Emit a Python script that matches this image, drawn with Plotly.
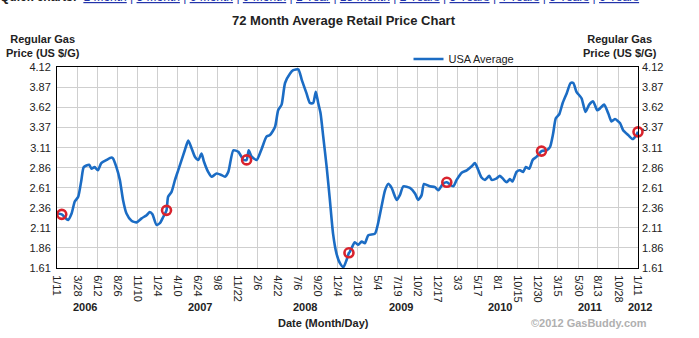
import plotly.graph_objects as go

# ---- data ----
dates = [
    "2006-01-11", "2006-01-29", "2006-02-16", "2006-02-22", "2006-03-07", "2006-03-19",
    "2006-04-01", "2006-04-13", "2006-04-22", "2006-05-12", "2006-05-21", "2006-06-02",
    "2006-06-14", "2006-06-27", "2006-07-17", "2006-08-04", "2006-08-10", "2006-08-23",
    "2006-09-05", "2006-09-17", "2006-09-30", "2006-10-19", "2006-11-07", "2006-11-26",
    "2006-12-15", "2006-12-27", "2007-01-06", "2007-01-21", "2007-02-03", "2007-02-16",
    "2007-02-28", "2007-03-06", "2007-03-19", "2007-04-01", "2007-04-13", "2007-04-26",
    "2007-05-08", "2007-05-21", "2007-06-03", "2007-06-15", "2007-06-28", "2007-07-10",
    "2007-07-19", "2007-08-04", "2007-08-17", "2007-09-05", "2007-09-24", "2007-10-06",
    "2007-10-19", "2007-11-07", "2007-11-26", "2007-12-15", "2007-12-27", "2008-01-04",
    "2008-01-15", "2008-02-03", "2008-02-22", "2008-03-11", "2008-03-24", "2008-04-12",
    "2008-04-24", "2008-05-07", "2008-05-20", "2008-06-08", "2008-06-20", "2008-07-09",
    "2008-07-22", "2008-08-09", "2008-08-22", "2008-09-03", "2008-09-13", "2008-09-22",
    "2008-10-01", "2008-10-11", "2008-10-24", "2008-11-05", "2008-11-17", "2008-11-30",
    "2008-12-13", "2008-12-26", "2009-01-07", "2009-01-16", "2009-01-19", "2009-02-07",
    "2009-02-20", "2009-03-05", "2009-03-17", "2009-03-30", "2009-04-24", "2009-05-06",
    "2009-05-19", "2009-06-01", "2009-06-13", "2009-06-26", "2009-07-15", "2009-07-27",
    "2009-08-09", "2009-09-03", "2009-09-22", "2009-10-04", "2009-10-17", "2009-10-26",
    "2009-11-17", "2009-12-06", "2009-12-19", "2010-01-05", "2010-01-20", "2010-02-13",
    "2010-02-26", "2010-03-17", "2010-04-05", "2010-04-24", "2010-05-06", "2010-05-19",
    "2010-05-31", "2010-06-13", "2010-06-29", "2010-07-08", "2010-07-27", "2010-08-08",
    "2010-08-21", "2010-09-03", "2010-09-15", "2010-09-25", "2010-10-10", "2010-10-23",
    "2010-11-04", "2010-11-14", "2010-11-27", "2010-12-10", "2010-12-25", "2011-01-12",
    "2011-01-31", "2011-02-13", "2011-02-25", "2011-03-07", "2011-03-20", "2011-04-02",
    "2011-04-17", "2011-05-02", "2011-05-12", "2011-05-24", "2011-06-12", "2011-06-27",
    "2011-07-11", "2011-07-26", "2011-08-10", "2011-08-20", "2011-09-05", "2011-09-21",
    "2011-10-03", "2011-10-16", "2011-11-04", "2011-11-16", "2011-12-05", "2011-12-22",
    "2012-01-03", "2012-01-11",
]
prices = [
    2.29, 2.28, 2.22, 2.21, 2.29, 2.44,
    2.50, 2.71, 2.87, 2.90, 2.85, 2.87,
    2.83, 2.92, 2.96, 2.99, 2.98, 2.87,
    2.71, 2.46, 2.29, 2.20, 2.18, 2.23,
    2.27, 2.31, 2.28, 2.15, 2.17, 2.25,
    2.33, 2.50, 2.56, 2.71, 2.83, 2.96,
    3.08, 3.20, 3.10, 3.00, 2.96, 3.04,
    2.94, 2.81, 2.75, 2.79, 2.77, 2.75,
    2.81, 3.08, 3.06, 2.96, 2.96, 3.08,
    3.00, 2.96, 3.10, 3.25, 3.27, 3.37,
    3.58, 3.65, 3.92, 4.04, 4.08, 4.09,
    3.96, 3.79, 3.67, 3.67, 3.81, 3.67,
    3.54, 3.25, 2.87, 2.46, 2.04, 1.79,
    1.67, 1.62, 1.71, 1.80, 1.81, 1.93,
    1.90, 1.94, 1.92, 2.02, 2.04, 2.17,
    2.38, 2.58, 2.66, 2.61, 2.46, 2.52,
    2.63, 2.61, 2.54, 2.46, 2.52, 2.66,
    2.63, 2.62, 2.58, 2.66, 2.68, 2.63,
    2.71, 2.80, 2.83, 2.88, 2.92, 2.83,
    2.74, 2.71, 2.76, 2.71, 2.73, 2.76,
    2.72, 2.68, 2.72, 2.69, 2.81, 2.83,
    2.81, 2.87, 2.85, 2.96, 3.00, 3.07,
    3.08, 3.12, 3.29, 3.48, 3.53, 3.67,
    3.79, 3.92, 3.92, 3.81, 3.73, 3.56,
    3.65, 3.69, 3.58, 3.60, 3.65, 3.54,
    3.44, 3.47, 3.42, 3.33, 3.27, 3.22,
    3.26, 3.31,
]

marker_dates = ["2006-01-29", "2007-02-28", "2007-12-27", "2009-01-16",
                "2010-01-20", "2011-01-12", "2012-01-11"]
marker_prices = [2.28, 2.33, 2.96, 1.80, 2.68, 3.07, 3.31]

tick_dates = [
    "2006-01-11", "2006-03-28", "2006-06-12", "2006-08-26", "2006-11-10",
    "2007-01-24", "2007-04-10", "2007-06-24", "2007-09-08", "2007-11-22",
    "2008-02-06", "2008-04-22", "2008-07-06", "2008-09-20", "2008-12-04",
    "2009-02-18", "2009-05-04", "2009-07-19", "2009-10-02", "2009-12-17",
    "2010-03-03", "2010-05-17", "2010-08-01", "2010-10-15", "2010-12-30",
    "2011-03-15", "2011-05-30", "2011-08-13", "2011-10-28", "2012-01-11",
]
tick_labels = [
    "1/11", "3/28", "6/12", "8/26", "11/10", "1/24", "4/10", "6/24", "9/8", "11/22",
    "2/6", "4/22", "7/6", "9/20", "12/4", "2/18", "5/4", "7/19", "10/2", "12/17",
    "3/3", "5/17", "8/1", "10/15", "12/30", "3/15", "5/30", "8/13", "10/28", "1/11",
]
y_ticks = [1.61, 1.86, 2.11, 2.36, 2.61, 2.86, 3.11, 3.37, 3.62, 3.87, 4.12]
y_tick_labels = ["1.61", "1.86", "2.11", "2.36", "2.61", "2.86", "3.11", "3.37", "3.62", "3.87", "4.12"]

years = ["2006", "2007", "2008", "2009", "2010", "2011", "2012"]
quick_links = ["1 Month", "3 Month", "6 Month", "9 Month", "1 Year", "18 Month",
               "2 Years", "3 Years", "4 Years", "5 Years", "6 Years"]

FONT = "Liberation Sans, Arial, sans-serif"
LINE_BLUE = "#1b6cc4"
RED = "#d9232d"

# plot-area geometry in pixels (layout only)
PL, PR, PT, PB = 57, 638, 67, 268
PW, PH = PR - PL, PB - PT


def px(x):
    return (x - PL) / PW


def py(y):
    return (PB - y) / PH


year_label_px = [85, 200, 305, 401, 500, 590, 640]

fig = go.Figure()
fig.add_trace(go.Scatter(
    x=dates, y=prices, mode="lines", name="USA Average",
    line=dict(color=LINE_BLUE, width=2.6, shape="spline", smoothing=0.6),
))
fig.add_trace(go.Scatter(
    x=marker_dates, y=marker_prices, mode="markers", showlegend=False,
    marker=dict(symbol="circle-open", size=9, color=RED, line=dict(color=RED, width=2.6)),
    cliponaxis=False, yaxis="y2",
))

axis_font = dict(family=FONT, size=11, color="#222")

fig.update_layout(
    width=699, height=338,
    margin=dict(l=PL, r=699 - PR, t=PT, b=338 - PB),
    paper_bgcolor="white", plot_bgcolor="white",
    font=dict(family=FONT, size=11, color="#222"),
    showlegend=True,
    legend=dict(x=0.605, y=1.04, xanchor="left", yanchor="middle",
                bgcolor="rgba(0,0,0,0)", font=dict(family=FONT, size=11, color="#222"),
                itemwidth=30),
    xaxis=dict(
        type="date", range=["2006-01-11", "2012-01-11"],
        tickmode="array", tickvals=tick_dates, ticktext=tick_labels,
        tickangle=90, tickfont=axis_font, ticks="", ticklabelstandoff=4,
        showgrid=True, gridcolor="#cfcfcf", gridwidth=1,
        showline=True, linecolor="black", linewidth=1, mirror=True,
        zeroline=False,
    ),
    yaxis=dict(
        range=[1.61, 4.12], tickmode="array", tickvals=y_ticks, ticktext=y_tick_labels,
        tickfont=axis_font, ticks="", ticklabelstandoff=3,
        showgrid=True, gridcolor="#cfcfcf", gridwidth=1,
        showline=True, linecolor="black", linewidth=1, mirror=True,
        zeroline=False,
    ),
    yaxis2=dict(
        range=[1.61, 4.12], overlaying="y", side="right",
        tickmode="array", tickvals=y_ticks, ticktext=y_tick_labels,
        tickfont=axis_font, ticks="", ticklabelstandoff=3,
        showgrid=False, zeroline=False, showline=False,
    ),
)

quick_text = ("<b>Quick charts:</b>  <span style='color:#2233aa'>"
              + " | ".join(f"<u>{q}</u>" for q in quick_links) + "</span>")

annotations = [
    dict(text="<b>72 Month Average Retail Price Chart</b>", xref="paper", yref="paper",
         x=px(344), y=py(20), xanchor="center", yanchor="middle",
         showarrow=False, font=dict(family=FONT, size=13, color="#222")),
    dict(text="<b>Regular Gas<br>Price (US $/G)</b>", xref="paper", yref="paper",
         x=px(43), y=py(45.5), xanchor="center", yanchor="middle",
         showarrow=False, font=dict(family=FONT, size=11, color="#222")),
    dict(text="<b>Regular Gas<br>Price (US $/G)</b>", xref="paper", yref="paper",
         x=px(620), y=py(45.5), xanchor="center", yanchor="middle",
         showarrow=False, font=dict(family=FONT, size=11, color="#222")),
    dict(text="<b>Date (Month/Day)</b>", xref="paper", yref="paper",
         x=px(323), y=py(323), xanchor="center", yanchor="middle",
         showarrow=False, font=dict(family=FONT, size=11, color="#222")),
    dict(text="<b>©2012 GasBuddy.com</b>", xref="paper", yref="paper",
         x=px(589), y=py(323), xanchor="center", yanchor="middle",
         showarrow=False, font=dict(family=FONT, size=11, color="#b0b0b0")),
    dict(text=quick_text,
         xref="paper", yref="paper", x=px(-2), y=py(6),
         xanchor="left", yanchor="bottom", showarrow=False,
         font=dict(family=FONT, size=12, color="#222")),
]
for yr, xp in zip(years, year_label_px):
    annotations.append(dict(
        text=f"<b>{yr}</b>", xref="paper", yref="paper", x=px(xp), y=py(307),
        xanchor="center", yanchor="middle", showarrow=False,
        font=dict(family=FONT, size=11, color="#222")))
fig.update_layout(annotations=annotations)

fig.write_html("out.html")
